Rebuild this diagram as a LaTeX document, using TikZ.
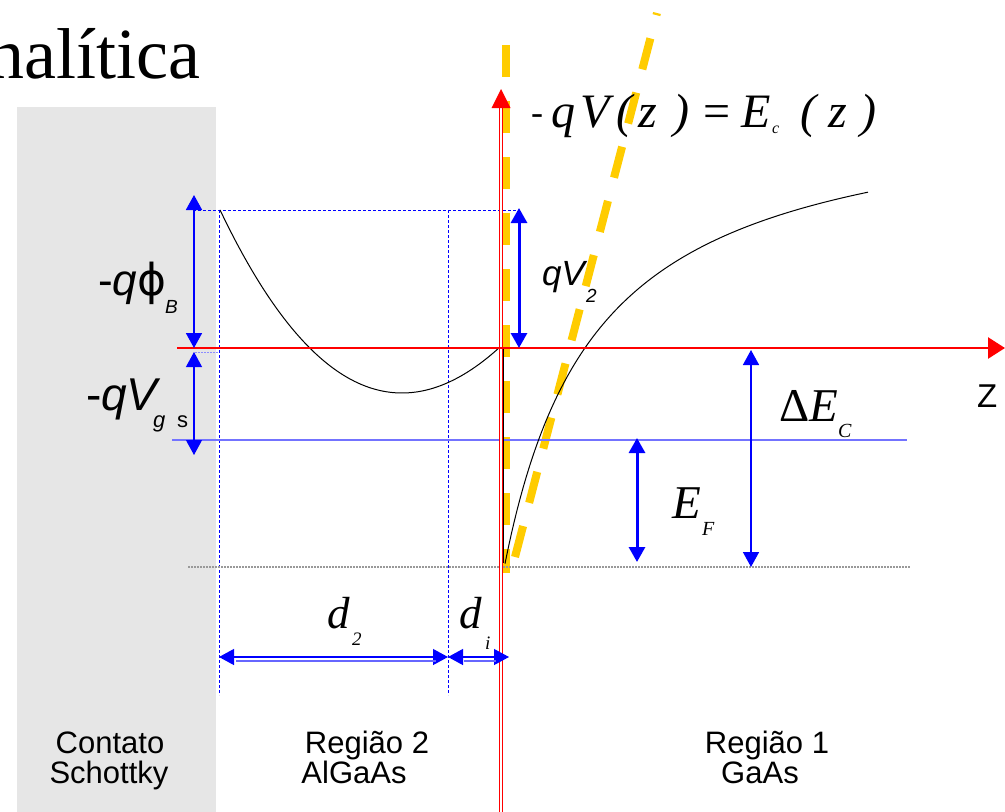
\documentclass[tikz,border=0pt]{standalone}
\usepackage{fontspec}
\setmainfont{Liberation Serif}
\newfontfamily\tms{Liberation Serif}
\newfontfamily\sns{Liberation Sans}
\newfontfamily\djv{DejaVu Sans}
\usetikzlibrary{arrows.meta}
\definecolor{ygold}{RGB}{255,204,0}
\definecolor{graybg}{RGB}{230,230,230}
\newcommand\myfs[1]{\fontsize{#1}{#1}\selectfont}
\begin{document}
\begin{tikzpicture}[x=1pt,y=-1pt,
  lbl/.style={inner sep=0pt, outer sep=0pt, anchor=base west},
  clbl/.style={inner sep=0pt, outer sep=0pt, anchor=base, font=\sns\myfs{31}},
  eqg/.style={lbl, font=\tms\itshape\myfs{48}},
  serl/.style={lbl, font=\tms\itshape\myfs{47}},
  sersub/.style={lbl, font=\tms\itshape\myfs{20}},
  sanl/.style={lbl, font=\sns\itshape\myfs{#1}},
  ydash/.style={draw=ygold, line width=8pt, dash pattern=on 32pt off 24pt},
  barrow/.style={draw=blue, line width=#1, {Triangle[length=15pt,width=16pt]}-{Triangle[length=15pt,width=16pt]}},
  barrow/.default=1.5pt,
  bdash/.style={draw=blue, line width=0.8pt, dash pattern=on 3pt off 2pt},
  curve/.style={draw=black, line width=1pt}
]
\useasboundingbox (0,0) rectangle (1005,812);
% background contact region
\fill[graybg] (17,107) rectangle (216,812);
% title fragment
\node[inner sep=0pt, anchor=base east, font=\tms\myfs{72}] (title) at (201,78) {nalítica};

% yellow dashed lines
\coordinate (yv1) at (506,45);
\coordinate (yv2) at (506,573);
\draw[ydash] (yv1) -- (yv2);
\coordinate (ys1) at (515,557);
\coordinate (ys2) at (657,13);
\draw[ydash] (ys1) -- (ys2);

% blue guide lines
\coordinate (gt1) at (193,210); \coordinate (gt2) at (519,210);
\draw[bdash] (gt1) -- (gt2);
\coordinate (gv1a) at (219,210); \coordinate (gv1b) at (219,695);
\draw[bdash] (gv1a) -- (gv1b);
\coordinate (gv2a) at (448,210); \coordinate (gv2b) at (448,695);
\draw[bdash] (gv2a) -- (gv2b);
\coordinate (gf1) at (172,440); \coordinate (gf2) at (907,440);
\draw[blue!55, line width=1.6pt] (gf1) -- (gf2);
\coordinate (gs1) at (195,352); \coordinate (gs2) at (218,352);
\draw[blue!45, line width=1pt, dash pattern=on 2pt off 1pt] (gs1) -- (gs2);
\coordinate (gb1) at (188,567); \coordinate (gb2) at (910,567);
\draw[gray!80, line width=1.3pt, dash pattern=on 2pt off 1pt] (gb1) -- (gb2);

% black band curves
\draw[curve] plot[domain=220:500, samples=80] (\x, {393-50.5*((\x-402)/100)^2+2.63*((\x-402)/100)^3});
\coordinate (st1) at (503,347); \coordinate (st2) at (503,563);
\draw[curve] (st1) -- (st2);
\draw[curve] plot[domain=505:868, samples=120] (\x, {97+100*(434/(\x-412))});

% red axes
\coordinate (vb) at (501,812); \coordinate (vt) at (501,106);
\draw[red, line width=1.2pt, double=white, double distance=2.4pt] (vb) -- (vt);
\fill[red] (491.5,108) -- (510.5,108) -- (501,89) -- cycle;
\coordinate (h0) at (177,348); \coordinate (h1) at (210,348); \coordinate (h2) at (207,348); \coordinate (h3) at (1005,348);
\draw[red, line width=1.2pt] (h0) -- (h1);
\draw[red, line width=2.6pt, -{Triangle[length=17pt,width=21pt]}] (h2) -- (h3);

% blue dimension arrows
\coordinate (pb1) at (194,195); \coordinate (pb2) at (194,348);
\draw[barrow=1.8pt] (pb1) -- (pb2);
\coordinate (vg1) at (194,352); \coordinate (vg2) at (194,455);
\draw[barrow=1.2pt] (vg1) -- (vg2);
\coordinate (q21) at (519,208); \coordinate (q22) at (519,348);
\draw[barrow=3pt] (q21) -- (q22);
\coordinate (de1) at (751,350); \coordinate (de2) at (751,567);
\draw[barrow=1.6pt] (de1) -- (de2);
\coordinate (ef1) at (637,438); \coordinate (ef2) at (637,562);
\draw[barrow=3pt] (ef1) -- (ef2);
\coordinate (d2a) at (219,657); \coordinate (d2b) at (448,657);
\draw[barrow=1.2pt] (d2a) -- (d2b);
\coordinate (d2c) at (236,661); \coordinate (d2d) at (436,661);
\draw[blue!60, line width=1.2pt] (d2c) -- (d2d);
\coordinate (dia) at (448,657); \coordinate (dib) at (509,657);
\draw[barrow=1.2pt] (dia) -- (dib);
\coordinate (dic) at (464,661); \coordinate (did) at (496,661);
\draw[blue!60, line width=1.2pt] (dic) -- (did);

% equation at top
\node[lbl, font=\tms\itshape\myfs{36}] (e1) at (531,124) {-};
\node[eqg] (e2) at (551,127) {q};
\node[eqg] (e3) at (580,127) {V};
\node[eqg] (e4) at (616,127) {(};
\node[eqg] (e5) at (638,127) {z};
\node[eqg] (e6) at (673,127) {)};
\node[lbl, font=\tms\myfs{48}] (e7) at (703,127) {=};
\node[eqg] (e8) at (741,127) {E};
\node[lbl, font=\tms\itshape\myfs{16}] (e9) at (772,133) {c};
\node[eqg] (e10) at (800,127) {(};
\node[eqg] (e11) at (828,127) {z};
\node[eqg] (e12) at (860,127) {)};

% -q phi_B
\node[lbl, font=\sns\myfs{44}] (pb) at (98,295) {-\textit{q}{\djv ϕ}};
\node[sanl=19] (pbs) at (165,313) {B};
% -q V_g s
\node[lbl, font=\sns\myfs{46}] (vg) at (86,410) {-\textit{qV}};
\node[sanl=22] (vgs1) at (153,427) {g};
\node[lbl, font=\sns\myfs{22}] (vgs2) at (177,427) {s};
% q V_2
\node[sanl=35] (qv) at (542,285) {qV};
\node[sanl=19] (qvs) at (586,302) {2};
% Delta E_C
\node[lbl, font=\tms\myfs{47}] (dE) at (779,421) {Δ\textit{E}};
\node[sersub] (dEs) at (838,437) {C};
% E_F
\node[serl] (EF) at (672,518) {E};
\node[sersub] (EFs) at (702,535) {F};
% d_2, d_i
\node[lbl, font=\tms\itshape\myfs{45}] (d2) at (327,628) {d};
\node[lbl, font=\tms\itshape\myfs{19}] (d2s) at (352,645) {2};
\node[lbl, font=\tms\itshape\myfs{45}] (di) at (459,628) {d};
\node[lbl, font=\tms\itshape\myfs{19}] (dis) at (485,649) {i};
% Z
\node[lbl, font=\sns\myfs{33}] (Z) at (977,407) {Z};

% bottom labels
\node[clbl] (c1) at (110,753) {Contato};
\node[clbl] (c2) at (109,783) {Schottky};
\node[clbl] (r2a) at (367,753) {Região 2};
\node[clbl] (r2b) at (354,783) {AlGaAs};
\node[clbl] (r1a) at (767,753) {Região 1};
\node[clbl] (r1b) at (760,783) {GaAs};
\end{tikzpicture}
\end{document}
